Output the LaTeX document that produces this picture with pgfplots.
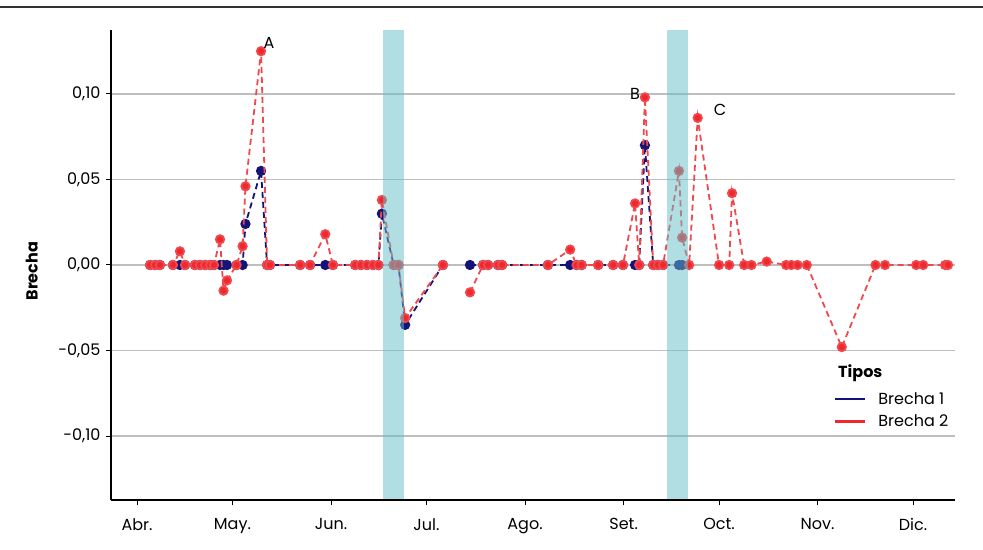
\documentclass[border=0pt]{standalone}
\usepackage{fontspec}
\setmainfont{Poppins}
\usepackage{pgfplots}
\usepackage{pgfplotstable}
\pgfplotsset{compat=1.18}
\definecolor{rojo}{RGB}{238,40,45}
\definecolor{azul}{RGB}{20,20,120}
\definecolor{bandc}{RGB}{100,190,200}
\definecolor{gridc}{RGB}{190,190,190}
\pgfplotstableread{
d r b
4.1 0 0
5.7 0 0
7.2 0 0
11.3 0 0
13.5 0.008 0
15.1 0 0
18.2 0 0
19.8 0 0
21.4 0 0
23.0 0 0
24.2 0 0
26.1 0.015 0
27.2 -0.015 0
28.3 -0.009 0
31.3 0 0
33.2 0.011 0
34.1 0.046 0.024
39.0 0.125 0.055
40.9 0 0
41.8 0 0
51.3 0 0
54.4 0 0
59.2 0.018 0
61.6 0 0
68.6 0 0
70.4 0 0
72.3 0 0
74.2 0 0
75.9 0 0
77.0 0.038 0.030
80.7 0 0
82.2 0 0
84.3 -0.031 -0.035
96.2 0 0
100 nan nan
104.7 -0.016 0
108.8 0 0
110.4 0 0
113.5 0 0
114.8 0 0
129.2 0 0
136.2 0.009 0
138.2 0 0
139.8 0 0
145.0 0 0
149.7 0 0
152.8 0 0
156.6 0.036 0
157.9 0 0
159.7 0.098 0.070
162.3 0 0
163.8 0 0
165.4 0 0
170.4 0.055 0
171.4 0.016 0
173.6 0 nan
176.3 0.086 nan
183.0 0 nan
186.2 0 nan
187.1 0.042 nan
190.9 0 nan
193.2 0 nan
198.0 0.002 nan
204.1 0 nan
205.7 0 nan
207.7 0 nan
210.6 0 nan
221.6 -0.048 nan
232.2 0 nan
235.2 0 nan
245.0 0 nan
247.2 0 nan
254.1 0 nan
255.0 0 nan
}\datos
\begin{document}
\fontsize{16bp}{19bp}\selectfont
\begin{tikzpicture}
\path[use as bounding box] (0,0) rectangle (983bp,550bp);
\draw[line width=1.5bp, black!80] (0,543bp) -- (983bp,543bp);
\begin{axis}[
  clip marker paths=true,
  at={(111bp,50bp)}, anchor=south west,
  scale only axis, width=844bp, height=470bp,
  xmin=-8.18, xmax=257.2, ymin=-0.1374, ymax=0.1374,
  axis x line*=bottom, axis y line*=left,
  axis line style={black, line width=1.5bp},
  xtick={0,30,61,91,122,153,183,214,244},
  xticklabels={Abr.,May.,Jun.,Jul.,Ago.,Set.,Oct.,Nov.,Dic.},
  xticklabel style={yshift=-8bp},
  ytick={-0.1,-0.05,0,0.05,0.1},
  yticklabels={{-0,10},{-0,05},{0,00},{0,05},{0,10}},
  /pgf/number format/assume math mode=true,
  tick align=outside, major tick length=5bp,
  tick style={black, line width=1bp},
  ymajorgrids, grid style={gridc, line width=1.3bp},
  ylabel={\bfseries Brecha},
  ylabel style={at={(axis description cs:-0.094,0.487)}, anchor=center},
  unbounded coords=jump,
  legend style={at={(rel axis cs:0.8566,0.234)}, anchor=north west, draw=none, fill=none, inner sep=0pt, row sep=4bp, nodes={inner sep=2bp},
    /tikz/every odd column/.append style={column sep=10bp}},
  legend cell align=left,
  legend image code/.code={\draw[#1, line width=2.2bp] (0bp,0bp) -- (30bp,0bp);},
]
\addplot[forget plot, azul, line width=1.8bp, dash pattern=on 6bp off 4bp, mark=*, mark size=4.2bp, mark options={solid, draw=none, fill=azul}] table[x=d, y=b] {\datos};
\addplot[forget plot, rojo!85, line width=1.8bp, dash pattern=on 6bp off 4bp, mark=*, mark size=4.2bp, mark options={solid, draw=none, fill=rojo}] table[x=d, y=r] {\datos};
\addplot[forget plot, draw=none, fill=bandc, fill opacity=0.5] coordinates {(77.4,-0.1369) (77.4,0.1374) (84.0,0.1374) (84.0,-0.1369)} -- cycle;
\addplot[forget plot, draw=none, fill=bandc, fill opacity=0.5] coordinates {(166.7,-0.1369) (166.7,0.1374) (173.3,0.1374) (173.3,-0.1369)} -- cycle;
\node[anchor=center] at (axis cs:41.5,0.130) {A};
\node[anchor=center] at (axis cs:156.6,0.1) {B};
\node[anchor=center] at (axis cs:183.3,0.0906) {C};
\node[anchor=base west, inner sep=0pt] at (rel axis cs:0.8614,0.2596) {\bfseries Tipos};
\addlegendimage{azul}
\addlegendentry{Brecha 1}
\addlegendimage{rojo}
\addlegendentry{Brecha 2}
\end{axis}
\end{tikzpicture}
\end{document}
